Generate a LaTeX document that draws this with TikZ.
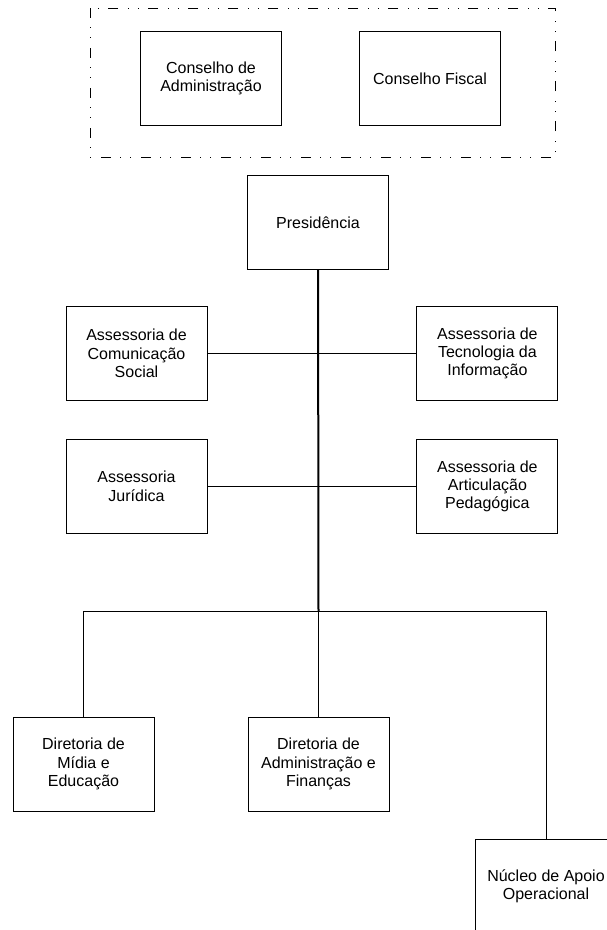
\documentclass[tikz,border=0pt]{standalone}
\usepackage{fontspec}
\setmainfont{Liberation Sans}
\usetikzlibrary{positioning}

\begin{document}
\begin{tikzpicture}[x=1pt,y=-1pt,node distance=38pt]
\tikzset{b/.style={draw,line width=0.9pt,minimum width=141pt,minimum height=94pt,align=center,inner sep=2pt,font=\fontsize{16}{18.3}\selectfont}}
\tikzset{lnk/.style={line width=0.8pt}}
\useasboundingbox (0,0) rectangle (607,930);
\clip (0,0) rectangle (607,930);
% conselhos
\draw[line width=0.9pt,dash pattern=on 10pt off 9pt on 1pt off 9pt on 1pt off 10pt] (90,8) rectangle (555,157);
\node[b] (cadm) at (211,78.5) {Conselho de\\Administração};
\node[b] (cfis) at (430,78.5) {Conselho Fiscal};
% presidencia e assessorias
\node[b] (pres) at (318,222.5) {Presidência};
\node[b] (acom) at (136.5,353.5) {Assessoria de\\Comunicação\\Social};
\node[b,below=of acom] (ajur) {Assessoria\\Jurídica};
\node[b,right=209pt of acom] (atec) {Assessoria de\\Tecnologia da\\Informação};
\node[b,right=209pt of ajur] (aped) {Assessoria de\\Articulação\\Pedagógica};
% diretorias
\node[b] (dmid) at (83.5,764) {Diretoria de\\Mídia e\\Educação};
\node[b] (dadm) at (318.5,764) {Diretoria de\\Administração e\\Finanças};
\node[b] (nuc) at (546,886) {Núcleo de Apoio\\Operacional};
\coordinate (j) at (318.5,611);
\draw[line width=2pt] (pres) -- (j);
\draw[lnk] (acom) -- (atec);
\draw[lnk] (ajur) -- (aped);
\draw[lnk] (j) -- (dadm);
\draw[lnk] (dmid) -- (dmid |- j) -- (nuc |- j) -- (nuc);
\end{tikzpicture}
\end{document}
